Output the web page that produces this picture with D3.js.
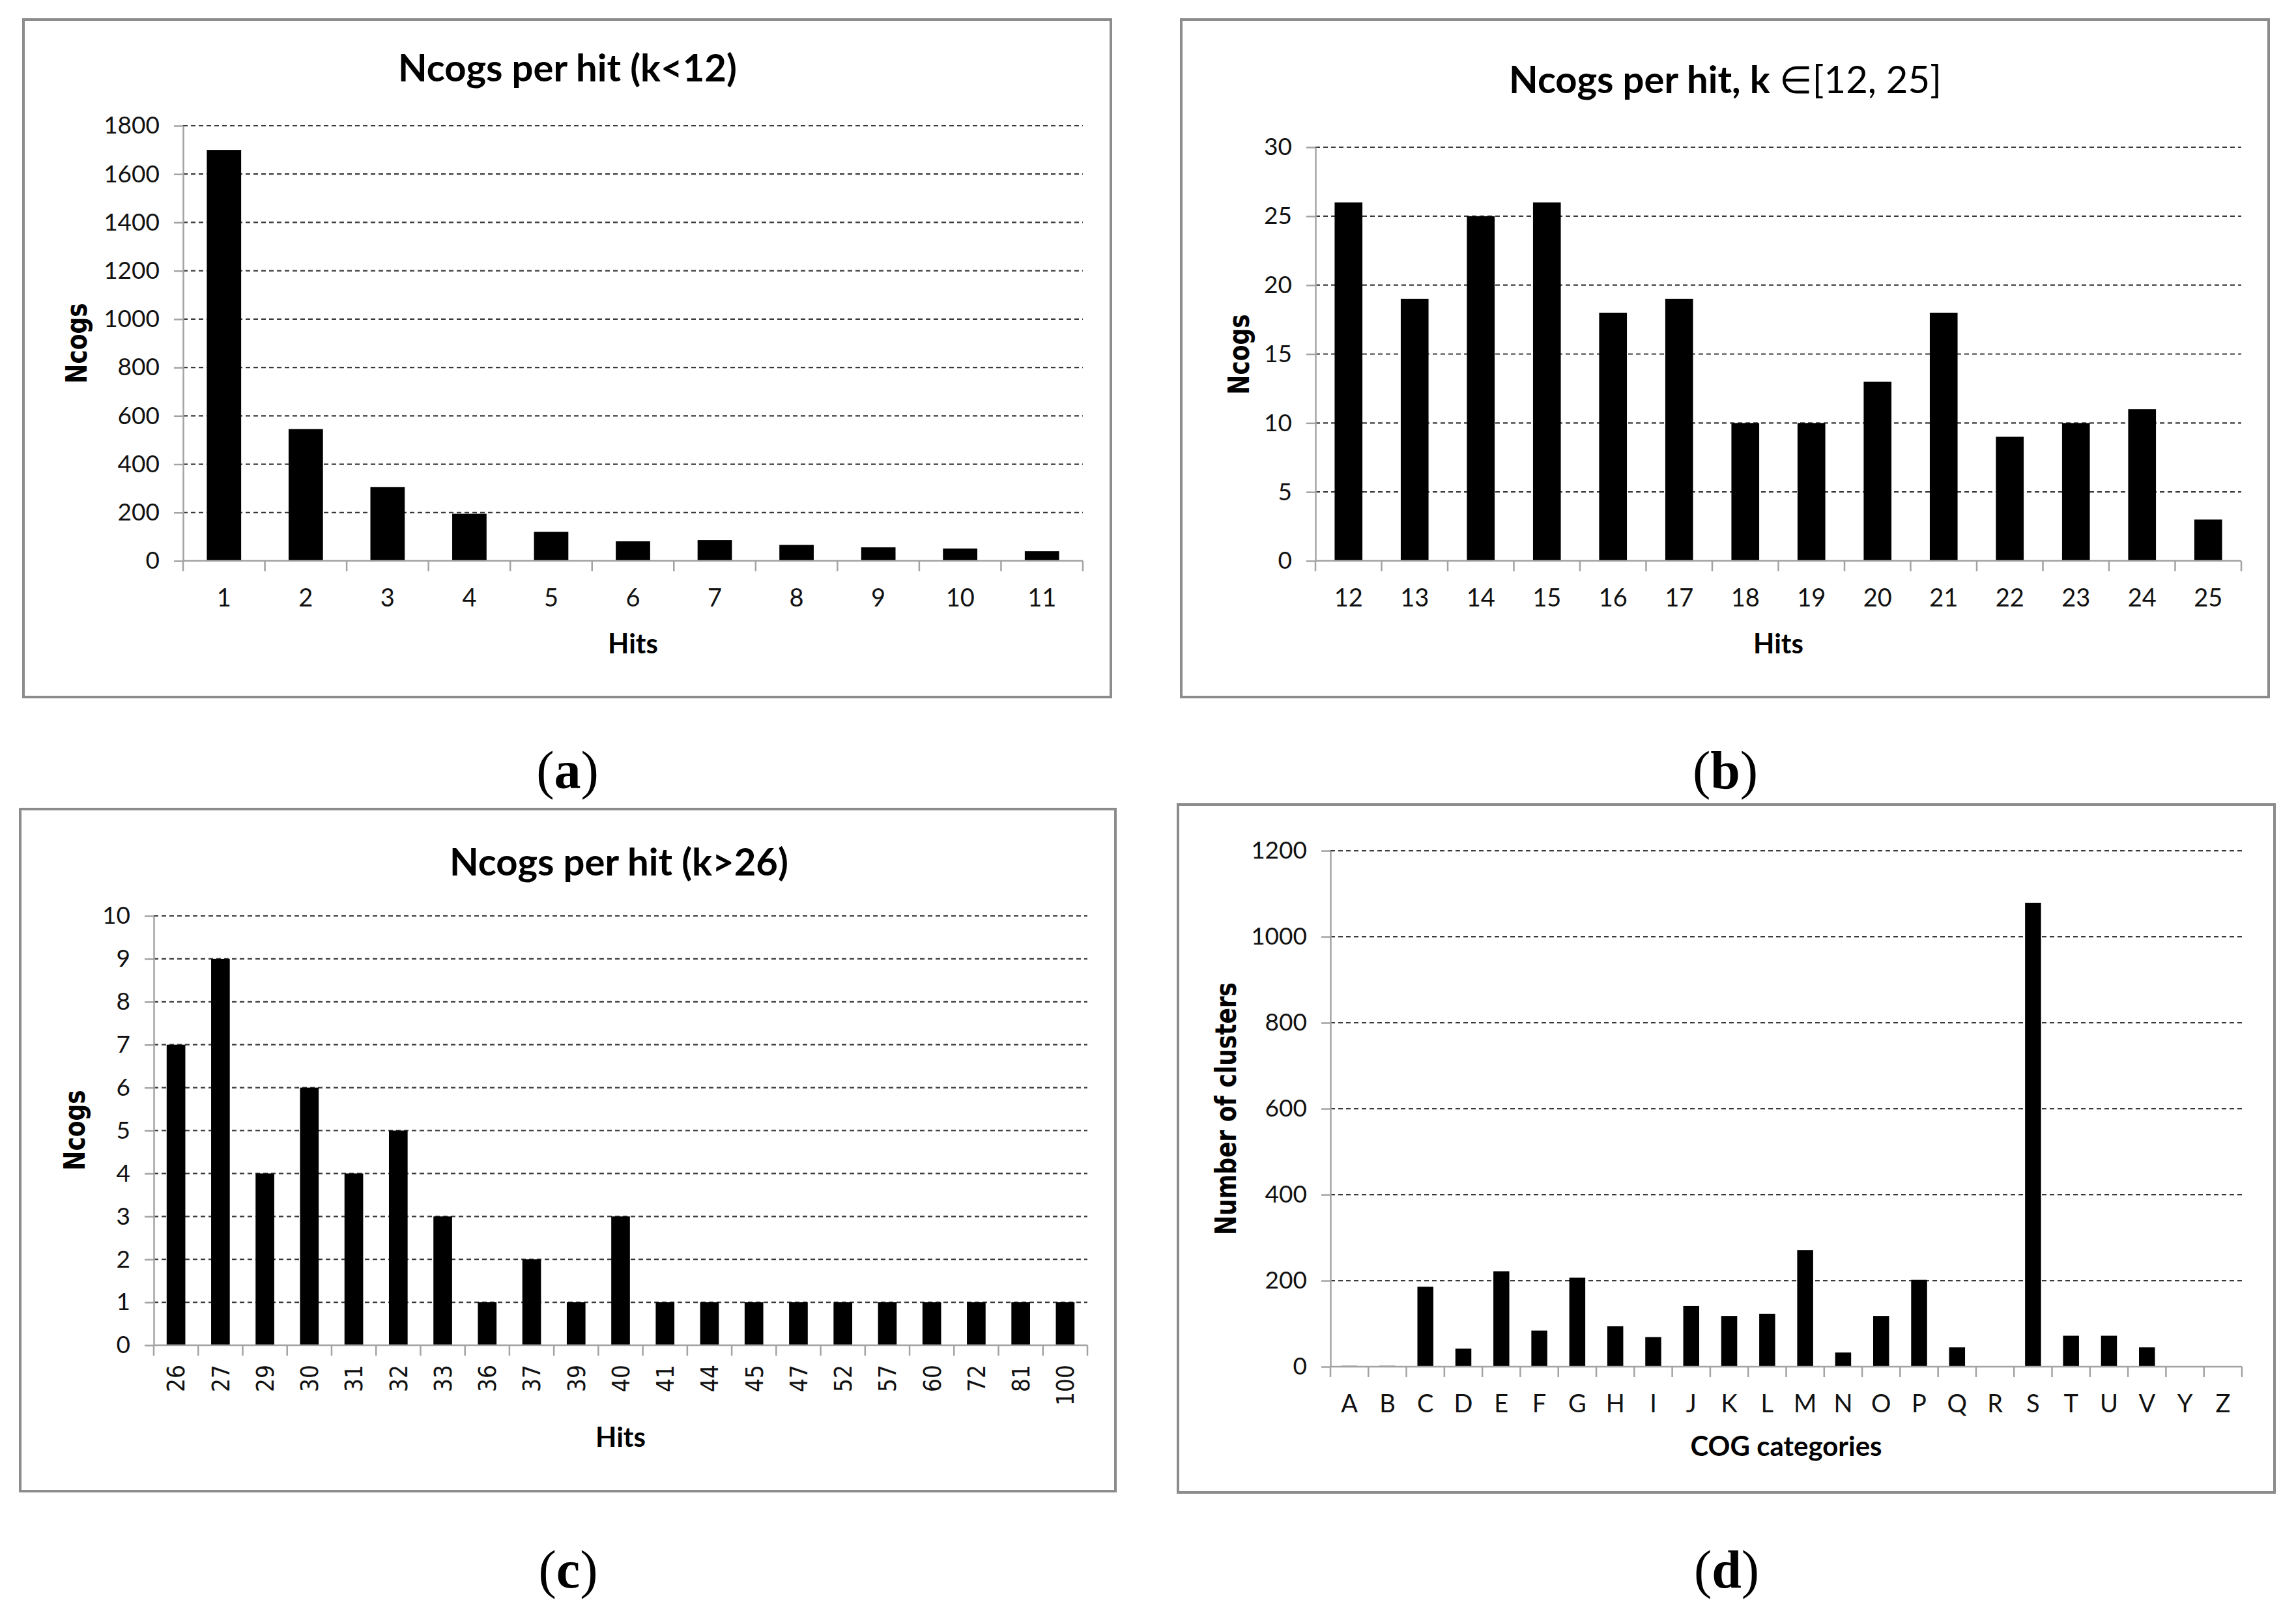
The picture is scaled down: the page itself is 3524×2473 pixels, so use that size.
<!DOCTYPE html>
<html>
<head>
<meta charset="utf-8">
<script src="https://cdn.jsdelivr.net/npm/d3@7"></script>
<style>
  body { margin: 0; background: #fff; }
  svg { display: block; }
</style>
</head>
<body>
<svg id="fig" width="3524" height="2473"></svg>
<script>
// --- data ---
const hitsA = ['1', '2', '3', '4', '5', '6', '7', '8', '9', '10', '11'];
const ncogsA = [1700, 545, 305, 195, 120, 81, 86, 66, 56, 51, 40];
const ticksA = [0, 200, 400, 600, 800, 1000, 1200, 1400, 1600, 1800];

const hitsB = ['12', '13', '14', '15', '16', '17', '18', '19', '20', '21', '22', '23', '24', '25'];
const ncogsB = [26, 19, 25, 26, 18, 19, 10, 10, 13, 18, 9, 10, 11, 3];
const ticksB = [0, 5, 10, 15, 20, 25, 30];

const hitsC = ['26', '27', '29', '30', '31', '32', '33', '36', '37', '39', '40',
  '41', '44', '45', '47', '52', '57', '60', '72', '81', '100'];
const ncogsC = [7, 9, 4, 6, 4, 5, 3, 1, 2, 1, 3, 1, 1, 1, 1, 1, 1, 1, 1, 1, 1];
const ticksC = [0, 1, 2, 3, 4, 5, 6, 7, 8, 9, 10];

const cogCats = ['A', 'B', 'C', 'D', 'E', 'F', 'G', 'H', 'I', 'J', 'K', 'L',
  'M', 'N', 'O', 'P', 'Q', 'R', 'S', 'T', 'U', 'V', 'Y', 'Z'];
const clusters = [2, 2, 186, 42, 222, 84, 207, 94, 69, 141, 118, 123,
  271, 33, 118, 202, 45, 0, 1079, 72, 72, 45, 0, 0];
const ticksD = [0, 200, 400, 600, 800, 1000, 1200];

// --- layout of the four panels ---
const panels = [
  {
    cats: hitsA, vals: ncogsA, ticks: ticksA,
    frame: [36, 30, 1705, 1070], plot: [281, 193, 1662, 861],
    title: { parts: [['Ncogs per hit (k<12)', 'bold']], x: 871, y: 125 },
    ylab: { text: 'Ncogs', x: 118, y: 527 },
    xlab: { text: 'Hits', y: 1003 },
    tag: { letter: 'a', x: 871, y: 1210 }
  },
  {
    cats: hitsB, vals: ncogsB, ticks: ticksB,
    frame: [1813, 30, 3482, 1070], plot: [2019, 226, 3440, 861],
    title: { parts: [['Ncogs per hit, k ', 'bold'], ['\u2208[12, 25]', 'normal']], x: 2648, y: 143 },
    ylab: { text: 'Ncogs', x: 1902, y: 544 },
    xlab: { text: 'Hits', y: 1003 },
    tag: { letter: 'b', x: 2648, y: 1210 }
  },
  {
    cats: hitsC, vals: ncogsC, ticks: ticksC, rotated: true,
    frame: [31, 1242, 1712, 2289], plot: [236, 1406, 1669, 2065],
    title: { parts: [['Ncogs per hit (k>26)', 'bold']], x: 950, y: 1344 },
    ylab: { text: 'Ncogs', x: 115, y: 1735 },
    xlab: { text: 'Hits', y: 2221 },
    tag: { letter: 'c', x: 872, y: 2437 }
  },
  {
    cats: cogCats, vals: clusters, ticks: ticksD,
    frame: [1808, 1235, 3491, 2291], plot: [2042, 1306, 3441, 2098],
    title: null,
    ylab: { text: 'Number of clusters', x: 1882, y: 1702 },
    xlab: { text: 'COG categories', y: 2235 },
    tag: { letter: 'd', x: 2650, y: 2437 }
  }
];

const svg = d3.select('#fig');
svg.append('rect').attr('width', 3524).attr('height', 2473).attr('fill', '#fff');

const SANS = 'Lato, "Open Sans", sans-serif';
const AXIS_GREY = '#a3a3a3';

function drawPanel(p) {
  const [fx0, fy0, fx1, fy1] = p.frame;
  const [px0, py0, px1, py1] = p.plot;
  const g = svg.append('g');

  // outer frame
  g.append('rect')
    .attr('x', fx0).attr('y', fy0)
    .attr('width', fx1 - fx0).attr('height', fy1 - fy0)
    .attr('fill', '#fff').attr('stroke', '#8c8c8c').attr('stroke-width', 4);

  const x = d3.scaleBand().domain(p.cats).range([px0, px1])
    .paddingInner(0.58).paddingOuter(0.29);
  const y = d3.scaleLinear().domain([0, d3.max(p.ticks)]).range([py1, py0]);

  // dashed gridlines
  g.append('g').selectAll('line')
    .data(p.ticks.filter(t => t > 0))
    .join('line')
    .attr('x1', px0).attr('x2', px1)
    .attr('y1', d => y(d)).attr('y2', d => y(d))
    .attr('stroke', '#3a3a3a').attr('stroke-width', 2.2)
    .attr('stroke-dasharray', '7,5');

  // y axis
  const yAxis = g.append('g')
    .attr('transform', `translate(${px0},0)`)
    .call(d3.axisLeft(y).tickValues(p.ticks).tickFormat(d3.format('d'))
      .tickSize(14).tickSizeOuter(0).tickPadding(22));
  yAxis.select('.domain').attr('stroke', AXIS_GREY).attr('stroke-width', 2.5);
  yAxis.selectAll('.tick line').attr('stroke', AXIS_GREY).attr('stroke-width', 2.5);
  yAxis.selectAll('.tick text')
    .attr('font-family', SANS).attr('font-size', 37).attr('fill', '#111');

  // bars
  g.append('g').selectAll('rect')
    .data(p.cats.map((c, i) => ({ c, v: p.vals[i] })))
    .join('rect')
    .attr('x', d => x(d.c))
    .attr('width', x.bandwidth())
    .attr('y', d => y(d.v))
    .attr('height', d => y(0) - y(d.v))
    .attr('fill', '#000');

  // x axis: baseline, category boundary ticks, labels
  const bounds = p.cats.map(c => x(c) + x.bandwidth() / 2 - x.step() / 2).concat([px1]);
  g.append('line')
    .attr('x1', px0).attr('x2', px1).attr('y1', py1).attr('y2', py1)
    .attr('stroke', AXIS_GREY).attr('stroke-width', 2.5);
  g.append('g').selectAll('line')
    .data(bounds)
    .join('line')
    .attr('x1', d => d).attr('x2', d => d)
    .attr('y1', py1).attr('y2', py1 + 16)
    .attr('stroke', AXIS_GREY).attr('stroke-width', 2.5);

  const xAxis = g.append('g')
    .attr('transform', `translate(0,${py1})`)
    .call(d3.axisBottom(x).tickSize(0));
  xAxis.select('.domain').remove();
  if (p.rotated) {
    xAxis.selectAll('.tick text')
      .attr('font-family', '"DejaVu Sans", sans-serif').attr('font-size', 33).attr('fill', '#111')
      .attr('text-anchor', 'end')
      .attr('y', 0).attr('dy', 0)
      .attr('transform', 'translate(0,30) rotate(-90) scale(1,1.15)')
      .attr('dominant-baseline', 'central');
  } else {
    xAxis.selectAll('.tick text')
      .attr('font-family', SANS).attr('font-size', 38).attr('fill', '#111')
      .attr('y', 70).attr('dy', 0);
  }

  // chart title
  if (p.title) {
    const t = g.append('text')
      .attr('x', p.title.x).attr('y', p.title.y)
      .attr('text-anchor', 'middle')
      .attr('font-family', SANS).attr('font-size', 58).attr('fill', '#000');
    p.title.parts.forEach(([txt, w]) => t.append('tspan').attr('font-weight', w).text(txt));
  }

  // axis titles
  g.append('text')
    .attr('transform', `translate(${p.ylab.x},${p.ylab.y}) rotate(-90) scale(1,1.25)`)
    .attr('text-anchor', 'middle').attr('dominant-baseline', 'central')
    .attr('font-family', '"DejaVu Sans", sans-serif').attr('font-weight', 'bold')
    .attr('font-size', 36).attr('fill', '#000')
    .text(p.ylab.text);

  g.append('text')
    .attr('x', (px0 + px1) / 2).attr('y', p.xlab.y)
    .attr('text-anchor', 'middle')
    .attr('font-family', SANS).attr('font-weight', 'bold')
    .attr('font-size', 42).attr('fill', '#000')
    .text(p.xlab.text);

  // panel letter below the chart
  const tag = svg.append('text')
    .attr('x', p.tag.x).attr('y', p.tag.y)
    .attr('text-anchor', 'middle')
    .attr('font-family', '"Liberation Serif", "DejaVu Serif", serif')
    .attr('font-size', 82).attr('fill', '#000');
  tag.append('tspan').text('(');
  tag.append('tspan').attr('font-weight', 'bold').text(p.tag.letter);
  tag.append('tspan').text(')');
}

panels.forEach(drawPanel);
</script>
</body>
</html>
